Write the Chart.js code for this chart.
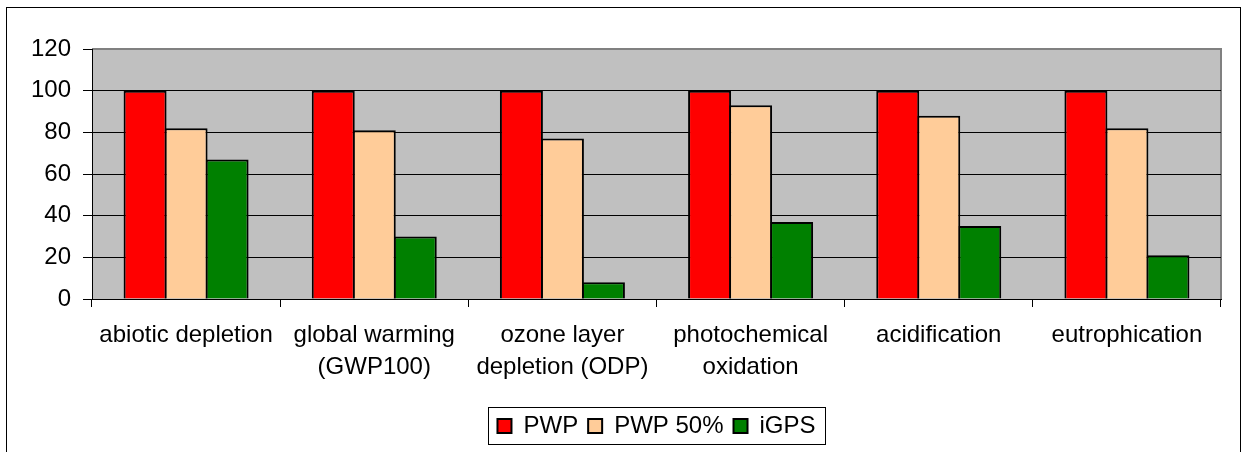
<!DOCTYPE html>
<html>
<head>
<meta charset="utf-8">
<script src="https://cdn.jsdelivr.net/npm/chart.js@4/dist/chart.umd.min.js"></script>
<style>
  html, body { margin: 0; padding: 0; background: #fff; }
  #wrap { width: 1244px; height: 452px; }
</style>
</head>
<body>
<div id="wrap"><canvas id="c" width="1244" height="452"></canvas></div>
<script>
// Impact categories (multi-line labels as arrays)
const categories = [
  ['abiotic depletion'],
  ['global warming', '(GWP100)'],
  ['ozone layer', 'depletion (ODP)'],
  ['photochemical', 'oxidation'],
  ['acidification'],
  ['eutrophication']
];
const seriesNames = ['PWP', 'PWP 50%', 'iGPS'];
const pwpValues   = [100, 100, 100, 100, 100, 100];
const pwp50Values = [82, 81, 77, 93, 88, 82];
const igpsValues  = [67, 30, 8, 37, 35, 21];
const yTickValues = [0, 20, 40, 60, 80, 100, 120];

const FONT = { family: "'Liberation Sans', Arial, sans-serif", size: 24, lineHeight: 1.31 };

// Page frame, grey plot area and the framed legend
const framePlugin = {
  id: 'frame',
  beforeDraw(chart) {
    const { ctx, chartArea: a } = chart;
    ctx.save();
    ctx.fillStyle = '#fff';
    ctx.fillRect(0, 0, chart.width, chart.height);
    ctx.strokeStyle = '#000';
    ctx.lineWidth = 1;
    ctx.strokeRect(6.5, 7.5, 1234, 480);
    ctx.fillStyle = '#c0c0c0';
    ctx.fillRect(a.left, a.top, a.right - a.left, a.bottom - a.top);
    ctx.strokeStyle = '#808080';
    ctx.lineWidth = 2;
    ctx.beginPath();
    ctx.moveTo(a.left, a.top);
    ctx.lineTo(a.right, a.top);
    ctx.lineTo(a.right, a.bottom);
    ctx.stroke();
    ctx.restore();
  },
  afterDraw(chart) {
    const boxes = chart.legend && chart.legend.legendHitBoxes;
    if (!boxes || !boxes.length) return;
    const left = Math.min(...boxes.map(b => b.left)) - 9;
    const right = Math.max(...boxes.map(b => b.left + b.width)) + 10;
    const mid = boxes[0].top + boxes[0].height / 2;
    const ctx = chart.ctx;
    ctx.save();
    ctx.strokeStyle = '#000';
    ctx.lineWidth = 1;
    ctx.strokeRect(Math.round(left) + 0.5, Math.round(mid - 19) + 0.5, Math.round(right - left), 37);
    ctx.restore();
  }
};

const barCommon = { borderColor: '#000', borderWidth: 2, categoryPercentage: 0.6537, barPercentage: 1.0488 };

new Chart(document.getElementById('c'), {
  type: 'bar',
  data: {
    labels: categories,
    datasets: [
      { label: seriesNames[0], data: pwpValues, backgroundColor: '#ff0000', ...barCommon },
      { label: seriesNames[1], data: pwp50Values, backgroundColor: '#ffcc99', ...barCommon },
      { label: seriesNames[2], data: igpsValues, backgroundColor: '#008000', ...barCommon }
    ]
  },
  options: {
    responsive: false,
    animation: false,
    devicePixelRatio: 1,
    layout: { padding: { left: 0, right: 23, top: 49, bottom: 4 } },
    plugins: {
      tooltip: { enabled: false },
      legend: {
        position: 'bottom',
        fullSize: false,
        maxHeight: 50,
        labels: {
          color: '#000',
          font: FONT,
          boxWidth: 14,
          boxHeight: 14,
          padding: 10
        }
      }
    },
    scales: {
      x: {
        offset: true,
        grid: { offset: true, drawOnChartArea: false, drawTicks: true, tickLength: 8, color: '#000' },
        border: { color: '#000', width: 1 },
        ticks: { color: '#000', font: FONT, padding: 13, maxRotation: 0, autoSkip: false },
        afterFit(s) { s.height = 105; }
      },
      y: {
        min: 0,
        max: 120,
        afterBuildTicks(s) { s.ticks = yTickValues.map(v => ({ value: v })); },
        grid: {
          color: c => (c.tick && c.tick.value === 120 ? '#808080' : '#000'),
          tickColor: '#000',
          tickLength: 9,
          lineWidth: 1
        },
        border: { color: '#000', width: 1 },
        ticks: { color: '#000', font: FONT, padding: 12 },
        afterFit(s) { s.width = 92; }
      }
    }
  },
  plugins: [framePlugin]
});
</script>
</body>
</html>
